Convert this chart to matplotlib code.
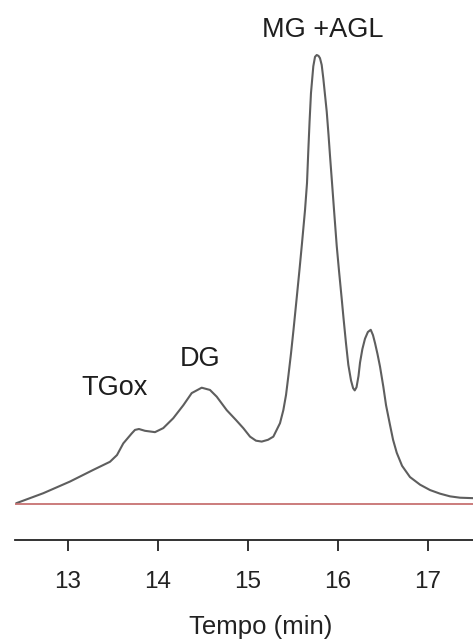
import matplotlib
matplotlib.use("Agg")
import matplotlib.pyplot as plt

plt.rcParams["font.family"] = ["Liberation Sans", "DejaVu Sans"]

# chromatogram trace: retention time (min) and detector signal (% of max)
tempo = [12.434, 12.730, 13.027, 13.286, 13.471, 13.549, 13.619, 13.712, 13.749, 13.793,
         13.860, 13.971, 14.063, 14.174, 14.286, 14.379, 14.490, 14.582, 14.657, 14.768,
         14.871, 14.952, 15.027, 15.093, 15.157, 15.227, 15.286, 15.360, 15.397, 15.427,
         15.454, 15.482, 15.510, 15.546, 15.577, 15.604, 15.638, 15.660, 15.674, 15.688,
         15.704, 15.730, 15.749, 15.768, 15.788, 15.804, 15.823, 15.841, 15.860, 15.879,
         15.899, 15.916, 15.938, 15.960, 15.990, 16.016, 16.046, 16.066, 16.093, 16.119,
         16.149, 16.172, 16.190, 16.210, 16.232, 16.249, 16.275, 16.304, 16.336, 16.368,
         16.393, 16.416, 16.443, 16.471, 16.508, 16.538, 16.582, 16.616, 16.657, 16.716,
         16.804, 16.916, 17.027, 17.138, 17.249, 17.360, 17.504]
sinal = [0.2, 2.4, 5.0, 7.6, 9.4, 10.9, 13.5, 15.7, 16.5, 16.7,
         16.3, 16.0, 16.9, 19.1, 22.0, 24.7, 25.9, 25.4, 23.9, 20.9,
         18.7, 16.9, 15.0, 14.1, 13.9, 14.3, 15.0, 18.0, 20.9, 24.3,
         28.7, 33.5, 38.8, 46.0, 52.3, 58.0, 65.5, 71.5, 78.5, 85.0,
         91.5, 97.5, 99.6, 100.0, 99.8, 99.3, 97.8, 94.8, 91.1, 87.4,
         82.2, 77.4, 71.5, 65.5, 57.5, 51.8, 45.6, 41.3, 35.8, 31.0,
         27.5, 25.8, 25.3, 26.0, 28.5, 31.5, 34.5, 36.8, 38.3, 38.8,
         37.6, 35.8, 33.4, 30.6, 26.1, 22.0, 17.6, 14.3, 11.4, 8.5,
         6.0, 4.3, 3.1, 2.3, 1.7, 1.4, 1.3]

ticks = [13, 14, 15, 16, 17]

picos = ["TGox", "DG", "MG +AGL"]
picos_t = [13.52, 14.47, 15.84]
picos_s = [25.8, 32.3, 105.6]

fig = plt.figure(figsize=(4.73, 6.41), dpi=100)
ax = fig.add_axes([15 / 473, 101 / 641, 1 - 15 / 473, 540 / 641])

ax.plot(tempo, sinal, color="#5e5e5e", lw=1.5, solid_joinstyle="round")
ax.axhline(0, color="#c77272", lw=1.3)

for nome, t, s in zip(picos, picos_t, picos_s):
    ax.text(t, s, nome, ha="center", va="center", fontsize=19.5, color="#1e1e1e")

ax.set_xlim(12.416, 17.504)
ax.set_ylim(-8.02, 112.25)

for lado in ("top", "right", "left"):
    ax.spines[lado].set_visible(False)
ax.spines["bottom"].set_linewidth(1.3)
ax.spines["bottom"].set_color("#222222")
ax.set_yticks([])
ax.set_xticks(ticks)
ax.tick_params(axis="x", direction="out", length=8, width=1.3, color="#222222",
               labelsize=17.5, labelcolor="#222222", pad=14)

fig.text(261 / 473, 1 - 627 / 641, "Tempo (min)", ha="center", va="center",
         fontsize=18.5, color="#222222")

fig.savefig("out.png", dpi=100, facecolor="white")
